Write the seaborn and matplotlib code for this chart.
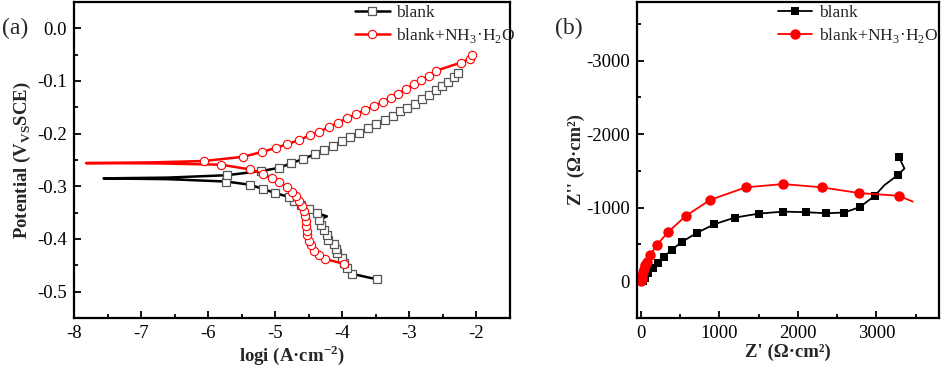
import pandas as pd
import seaborn as sns
import matplotlib.pyplot as plt
from matplotlib.ticker import MultipleLocator

sns.set_style('ticks')
plt.rcParams['font.family'] = ['Liberation Serif', 'DejaVu Serif']
plt.rcParams['mathtext.fontset'] = 'custom'
plt.rcParams['mathtext.rm'] = 'Liberation Serif'
plt.rcParams['mathtext.bf'] = 'Liberation Serif:bold'
plt.rcParams['axes.unicode_minus'] = False

# (a) polarization curves, scan order: cathodic (bottom up) then anodic
# mark = 0 -> point read off the line only, no symbol drawn there
blank_logi = [-3.49, -3.58, -3.86, -3.93, -3.97, -4.00, -4.08, -4.10, -4.13, -4.22,
              -4.23, -4.28, -4.32, -4.35, -4.23, -4.38, -4.50, -4.62, -4.72, -4.80,
              -5.00, -5.18, -5.38, -5.73, -6.60, -7.56, -6.60,
              -5.72, -5.21, -4.94, -4.76, -4.58, -4.41, -4.28, -4.14, -4.01, -3.89,
              -3.75, -3.62, -3.50, -3.37, -3.25, -3.14, -3.03, -2.92, -2.81, -2.71,
              -2.61, -2.51, -2.42, -2.34, -2.27]
blank_E = [-0.476, -0.474, -0.466, -0.455, -0.446, -0.436, -0.427, -0.419, -0.410, -0.402,
           -0.392, -0.383, -0.373, -0.364, -0.357, -0.351, -0.344, -0.336, -0.328, -0.320,
           -0.313, -0.305, -0.297, -0.291, -0.2865, -0.285, -0.2835,
           -0.279, -0.271, -0.265, -0.256, -0.248, -0.239, -0.231, -0.223, -0.214, -0.206,
           -0.198, -0.190, -0.182, -0.174, -0.167, -0.158, -0.151, -0.143, -0.134, -0.126,
           -0.117, -0.110, -0.102, -0.093, -0.085]
blank_mark = [1, 0, 1, 1, 1, 1, 1, 1, 1, 1,
              1, 1, 1, 1, 0, 1, 1, 1, 1, 1,
              1, 1, 1, 1, 0, 0, 0,
              1, 1, 1, 1, 1, 1, 1, 1, 1, 1,
              1, 1, 1, 1, 1, 1, 1, 1, 1, 1,
              1, 1, 1, 1, 1]

nh3_logi = [-3.98, -4.26, -4.35, -4.42, -4.47, -4.50, -4.52, -4.53, -4.54, -4.54,
            -4.55, -4.57, -4.60, -4.64, -4.69, -4.75, -4.83, -4.94, -5.05, -5.18,
            -5.37, -5.81, -6.80, -7.82, -6.80,
            -6.06, -5.48, -5.20, -4.99, -4.82, -4.64, -4.48, -4.34, -4.20, -4.06,
            -3.93, -3.79, -3.66, -3.53, -3.40, -3.28, -3.17, -3.05, -2.93, -2.82,
            -2.71, -2.61, -2.23, -2.10, -2.06]
nh3_E = [-0.447, -0.438, -0.430, -0.422, -0.412, -0.403, -0.393, -0.384, -0.375, -0.366,
         -0.356, -0.347, -0.337, -0.327, -0.318, -0.310, -0.301, -0.292, -0.285, -0.277,
         -0.268, -0.259, -0.2565, -0.256, -0.2545,
         -0.252, -0.244, -0.235, -0.227, -0.220, -0.212, -0.203, -0.196, -0.188, -0.179,
         -0.171, -0.163, -0.155, -0.148, -0.140, -0.132, -0.124, -0.115, -0.106, -0.098,
         -0.090, -0.081, -0.065, -0.058, -0.050]
nh3_mark = [1] * 22 + [0, 0, 0] + [1] * 25

# (b) Nyquist plots
blank_zre = [25, 50, 90, 150, 220, 290, 394, 527, 711, 935, 1198, 1503, 1812, 2100,
             2363, 2587, 2787, 2977, 3104, 3273, 3358, 3286]
blank_zim = [0, -50, -110, -175, -245, -330, -430, -538, -657, -776, -866, -920, -947, -939,
             -925, -934, -1007, -1160, -1308, -1444, -1534, -1691]
blank_zmark = [1] * 18 + [0, 1, 0, 1]

nh3_zre = [5, 10, 15, 25, 40, 55, 76, 118, 200, 347, 572, 881, 1334, 1812, 2308, 2778,
           3290, 3464]
nh3_zim = [0, -35, -75, -120, -170, -215, -260, -355, -490, -670, -889, -1106, -1277,
           -1322, -1277, -1200, -1162, -1083]
nh3_zmark = [1] * 17 + [0]

nh3_label = r'blank+NH$_{\mathregular{3}}$·H$_{\mathregular{2}}$O'


def frame(x, y, mark):
    df = pd.DataFrame({'x': x, 'y': y})
    idx = [i for i, m in enumerate(mark) if m]
    return df, idx


fig = plt.figure(figsize=(9.41, 3.68), dpi=100)
ax1 = fig.add_axes([0.0786, 0.136, 0.4634, 0.8587])
ax2 = fig.add_axes([0.677, 0.136, 0.321, 0.8587])

df, idx = frame(blank_logi, blank_E, blank_mark)
sns.lineplot(data=df, x='x', y='y', sort=False, estimator=None, ax=ax1, color='black',
             lw=1.8, marker='s', markersize=5.5, markerfacecolor='white',
             markeredgecolor='#555555', markeredgewidth=0.9, markevery=idx, label='blank')
df, idx = frame(nh3_logi, nh3_E, nh3_mark)
sns.lineplot(data=df, x='x', y='y', sort=False, estimator=None, ax=ax1, color='red',
             lw=1.8, marker='o', markersize=6, markerfacecolor='white',
             markeredgecolor='red', markeredgewidth=0.8, markevery=idx, label=nh3_label)

df, idx = frame(blank_zre, blank_zim, blank_zmark)
sns.lineplot(data=df, x='x', y='y', sort=False, estimator=None, ax=ax2, color='black',
             lw=1.3, marker='s', markersize=6, markeredgewidth=0, markevery=idx,
             label='blank')
df, idx = frame(nh3_zre, nh3_zim, nh3_zmark)
sns.lineplot(data=df, x='x', y='y', sort=False, estimator=None, ax=ax2, color='red',
             lw=1.3, marker='o', markersize=7.5, markeredgewidth=0, markevery=idx,
             label=nh3_label)

ax1.set_xlim(-8, -1.5)
ax1.set_ylim(-0.55, 0.05)
ax1.xaxis.set_major_locator(MultipleLocator(1))
ax1.xaxis.set_minor_locator(MultipleLocator(0.5))
ax1.yaxis.set_major_locator(MultipleLocator(0.1))
ax1.yaxis.set_minor_locator(MultipleLocator(0.05))
ax1.set_xlabel(r'logi (A·cm$^{\mathbf{-2}}$)', fontsize=13.5, fontweight='bold', labelpad=1)
ax1.set_ylabel(r'Potential (V$_{\mathbf{VS}}$SCE)', fontsize=13.5, fontweight='bold',
               labelpad=3)

ax2.set_xlim(-50, 3800)
ax2.set_ylim(500, -3800)
ax2.xaxis.set_major_locator(MultipleLocator(1000))
ax2.xaxis.set_minor_locator(MultipleLocator(500))
ax2.yaxis.set_major_locator(MultipleLocator(1000))
ax2.yaxis.set_minor_locator(MultipleLocator(500))
ax2.set_xlabel("Z' (Ω·cm²)", fontsize=13.5, fontweight='bold', labelpad=1)
ax2.set_ylabel("Z'' (Ω·cm²)", fontsize=13.5, fontweight='bold', labelpad=1)

for ax in (ax1, ax2):
    for s in ax.spines.values():
        s.set_linewidth(1.6)
        s.set_color('black')
    ax.tick_params(which='both', direction='in', width=1.3, labelsize=13.5, pad=5,
                   colors='black')
    ax.tick_params(which='major', length=5)
    ax.tick_params(which='minor', length=3)

ax1.legend(loc='upper left', bbox_to_anchor=(0.644, 0.99), frameon=False, fontsize=12.5,
           borderpad=0, borderaxespad=0, handlelength=2.0, handletextpad=0.4,
           labelspacing=0.25)
ax2.legend(loc='upper left', bbox_to_anchor=(0.465, 0.99), frameon=False, fontsize=12.5,
           borderpad=0, borderaxespad=0, handlelength=2.0, handletextpad=0.4,
           labelspacing=0.25)

fig.text(0.016, 0.922, '(a)', fontsize=17, ha='center', va='center')
fig.text(0.604, 0.922, '(b)', fontsize=17, ha='center', va='center')

fig.savefig('out.png', dpi=100)
